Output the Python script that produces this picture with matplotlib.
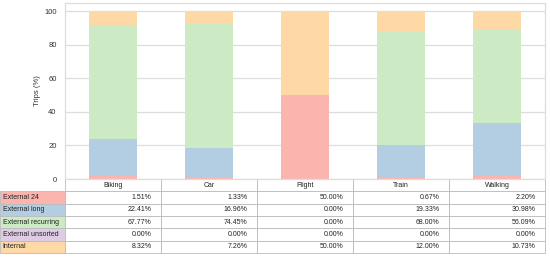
import matplotlib.pyplot as plt
import numpy as np

plt.rcParams["font.family"] = ["Liberation Sans", "DejaVu Sans"]

modes = ["Biking", "Car", "Flight", "Train", "Walking"]
series = ["External 24", "External long", "External recurring", "External unsorted", "Internal"]
ext_24 = [1.51, 1.33, 50.00, 0.67, 2.20]
ext_long = [22.41, 16.96, 0.00, 19.33, 30.98]
ext_recurring = [67.77, 74.45, 0.00, 68.00, 56.09]
ext_unsorted = [0.00, 0.00, 0.00, 0.00, 0.00]
internal = [8.32, 7.26, 50.00, 12.00, 10.73]
colors = ["#fbb4ae", "#b3cde3", "#ccebc5", "#decbe4", "#fed9a6"]

values = [ext_24, ext_long, ext_recurring, ext_unsorted, internal]

fig = plt.figure(figsize=(5.5, 2.6), dpi=100)
ax = fig.add_axes([65 / 550, 81 / 260, 480 / 550, 176 / 260])

x = np.arange(len(modes))
bottom = np.zeros(len(modes))
for vals, color in zip(values, colors):
    ax.bar(x, vals, width=0.5, bottom=bottom, color=color, zorder=2)
    bottom += np.array(vals)

ax.set_xlim(-0.5, len(modes) - 0.5)
ax.set_ylim(0, 105)
ax.set_yticks([0, 20, 40, 60, 80, 100])
ax.set_xticks([])
ax.tick_params(axis="y", length=0, labelsize=5.5, colors="#333333", pad=6)
ax.yaxis.grid(True, color="#dddddd", linewidth=0.9, zorder=0)
for s in ax.spines.values():
    s.set_color("#dddddd")
    s.set_linewidth(0.9)
ax.set_ylabel("Trips (%)", fontsize=5.5, color="#333333", labelpad=2)

# table below the axes, first column holds the row labels
cell_text = [[name] + [f"{v:.2f}%" for v in vals] for name, vals in zip(series, values)]
col_labels = [""] + modes
label_w = 65 / 480
tbl = ax.table(cellText=cell_text, colLabels=col_labels,
               colWidths=[65] + [96] * len(modes),
               bbox=[-label_w, -74 / 176, 1 + label_w, 74 / 176])
tbl.auto_set_font_size(False)
tbl.set_fontsize(5)
for (r, c), cell in tbl.get_celld().items():
    cell.set_edgecolor("#bbbbbb")
    cell.set_linewidth(0.6)
    cell.get_text().set_color("#222222")
    if r == 0:
        cell.get_text().set_ha("center")
        if c == 0:
            cell.visible_edges = "open"
    elif c == 0:
        cell.set_facecolor(colors[r - 1])
        cell._loc = "left"
        cell.PAD = 0.04
        cell.get_text().set_ha("left")
    else:
        cell._loc = "right"
        cell.get_text().set_ha("right")

fig.savefig("out.png", dpi=100)
